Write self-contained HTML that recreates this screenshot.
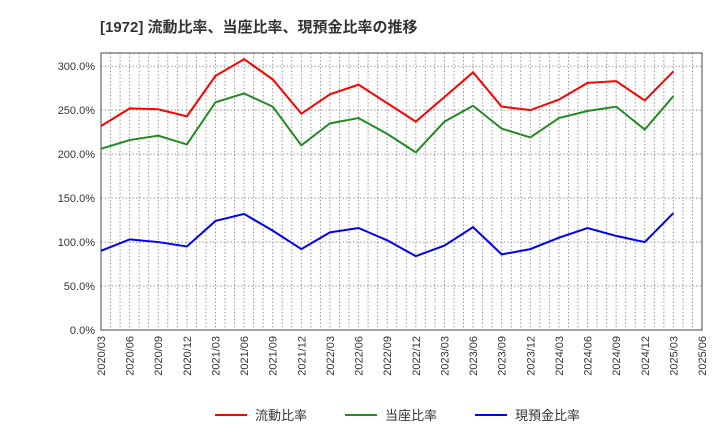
<!DOCTYPE html>
<html><head><meta charset="utf-8"><style>
body{margin:0;background:#fff;font-family:"Liberation Sans","Noto Sans CJK JP",sans-serif}
svg text{font-family:"Liberation Sans","Noto Sans CJK JP",sans-serif}
</style></head><body>
<svg id="chart" width="720" height="440">
<text x="100" y="32" font-size="15" font-weight="bold" fill="#333">[1972]  流動比率、当座比率、現預金比率の推移</text>
<g id="grid"></g><g id="axes"></g><g id="series"></g><g id="legend"></g>
</svg>
<script>
const categories=["2020/03","2020/06","2020/09","2020/12","2021/03","2021/06","2021/09","2021/12","2022/03","2022/06","2022/09","2022/12","2023/03","2023/06","2023/09","2023/12","2024/03","2024/06","2024/09","2024/12","2025/03","2025/06"];
const currentRatio=[232,252,251,243,289,308,285,246,268,279,258,237,265,293,254,250,262,281,283,261,294];
const quickRatio=[206,216,221,211,259,269,254,210,235,241,223,202,237,255,229,219,241,249,254,228,266];
const cashRatio=[90,103,100,95,124,132,113,92,111,116,102,84,96,117,86,92,105,116,107,100,133];
const yTicks=[0,50,100,150,200,250,300];
const seriesNames=["流動比率","当座比率","現預金比率"];
const colors=["#ff0000","#228b22","#0000ff"];
const L=101,R=702,T=53,B=330,yMax=315;
const x=i=>L+(R-L)*i/(categories.length-1);
const y=v=>B-(B-T)*v/yMax;
const NS="http://www.w3.org/2000/svg";
function mk(tag,attrs,parent){const e=document.createElementNS(NS,tag);for(const k in attrs)e.setAttribute(k,attrs[k]);parent.appendChild(e);return e;}
const grid=document.getElementById('grid'),axes=document.getElementById('axes'),ser=document.getElementById('series'),leg=document.getElementById('legend');
for(let m=1;m<(categories.length-1)*3;m++){const xx=L+(R-L)*m/((categories.length-1)*3);
const g=mk('line',{x1:xx,x2:xx,y1:T,y2:B,stroke:'#999','stroke-dasharray':'1.5,2','stroke-width':1},grid);

}
yTicks.forEach(v=>{const g=mk('line',{x1:L,x2:R,y1:y(v),y2:y(v),stroke:'#999','stroke-dasharray':'1.5,2','stroke-width':1},grid);


const t=mk('text',{x:L-6,y:y(v)+4,'text-anchor':'end','font-size':11,fill:'#333'},axes);t.textContent=v.toFixed(1)+'%';

});
const frame=mk('rect',{x:L,y:T,width:R-L,height:B-T,fill:'none',stroke:'#444','stroke-width':1},axes);


categories.forEach((c,i)=>{const t=mk('text',{transform:`translate(${x(i)+4},${B+6}) rotate(-90)`,'text-anchor':'end','font-size':11,fill:'#333'},axes);t.textContent=c;

});
[currentRatio,quickRatio,cashRatio].forEach((d,s)=>{const p=mk('polyline',{points:d.map((v,i)=>x(i)+','+y(v)).join(' '),fill:'none',stroke:colors[s],'stroke-width':2},ser);

});
const lx=[215,345,475];
seriesNames.forEach((n,s)=>{const g=mk('g',{},leg);


mk('line',{x1:lx[s],x2:lx[s]+32,y1:415,y2:415,stroke:colors[s],'stroke-width':2},g);
const t=mk('text',{x:lx[s]+40,y:420,'font-size':13,fill:'#333'},g);t.textContent=n;});
</script>
</body></html>
